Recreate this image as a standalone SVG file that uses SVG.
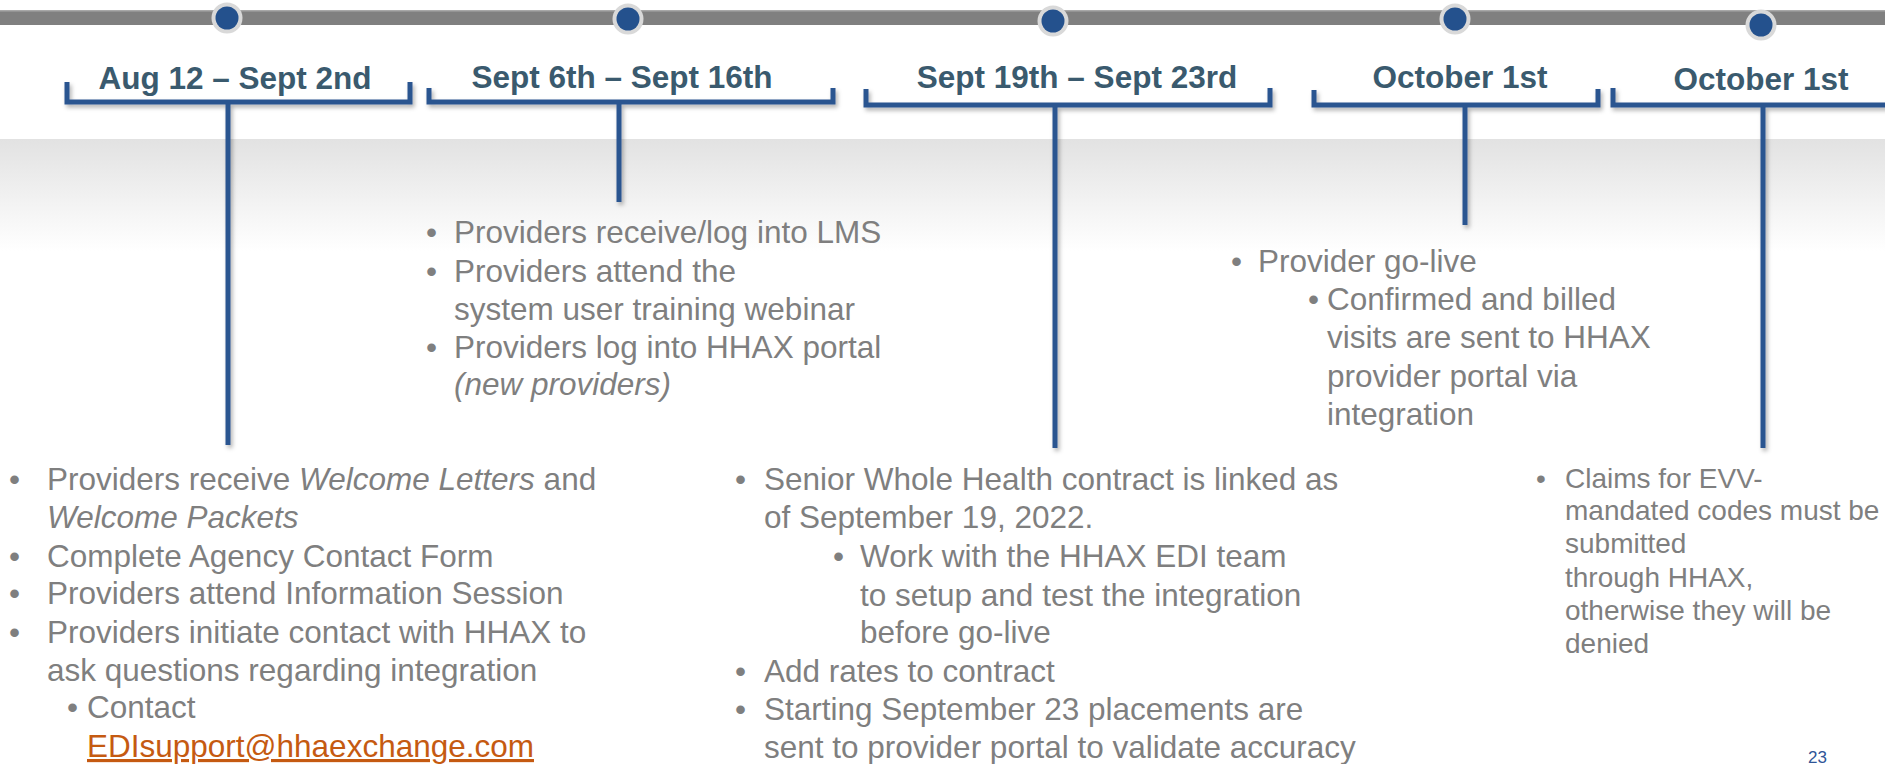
<svg xmlns="http://www.w3.org/2000/svg" width="1885" height="764" viewBox="0 0 1885 764">
  <style>
    .hd { font-family: "Liberation Sans", Arial, sans-serif; font-weight: bold; font-size: 31.5px; fill: #3a5a6e; text-anchor: middle; }
    .tx { font-family: "Liberation Sans", Arial, sans-serif; font-size: 31.5px; fill: #7f7f7f; }
    .sm { font-family: "Liberation Sans", Arial, sans-serif; font-size: 28px; fill: #7f7f7f; }
    .it { font-style: italic; }
    .link { fill: #c55a11; text-decoration: underline; }
    .br { fill: none; stroke: #2a5490; stroke-width: 5; stroke-linecap: butt; stroke-linejoin: miter; }
    .ring { fill: #d9d9d9; }
    .dot { fill: #24518d; }
    .pg { font-family: "Liberation Sans", Arial, sans-serif; font-size: 17px; fill: #2f5597; }
  </style>
  <defs>
    <linearGradient id="fade" x1="0" y1="0" x2="0" y2="1">
      <stop offset="0" stop-color="#e2e2e2"/>
      <stop offset="1" stop-color="#ffffff"/>
    </linearGradient>
    <filter id="shadow" x="-20%" y="-20%" width="140%" height="140%">
      <feDropShadow dx="2" dy="3" stdDeviation="2" flood-color="#000000" flood-opacity="0.3"/>
    </filter>
  </defs>

  <rect width="1885" height="764" fill="#ffffff"/>
  <!-- soft grey band behind the brackets -->
  <rect x="0" y="139" width="1885" height="112" fill="url(#fade)"/>

  <!-- timeline bar -->
  <g id="timeline">
    <rect x="0" y="10" width="1885" height="15" fill="#808080"/>
    <rect x="0" y="10" width="1885" height="1.5" fill="#a8a8a8"/>
  </g>

  <!-- brackets and drop lines -->
  <g id="connectors" filter="url(#shadow)">
    <path class="br" d="M67,82 V102 H410 V82"/>
    <path class="br" d="M228,102 V445"/>
    <path class="br" d="M429,88 V102 H833 V88"/>
    <path class="br" d="M619,102 V202"/>
    <path class="br" d="M866,89 V105 H1270 V88"/>
    <path class="br" d="M1055,105 V448"/>
    <path class="br" d="M1314,90 V105 H1598 V89"/>
    <path class="br" d="M1465,105 V225"/>
    <path class="br" d="M1613,88 V105 H1895"/>
    <path class="br" d="M1763,105 V448"/>
  </g>

  <g id="m1">
    <circle class="ring" cx="227" cy="18" r="15.5"/>
    <circle class="dot" cx="227" cy="18" r="11.5"/>
    <text class="hd" x="235" y="89">Aug 12 – Sept 2nd</text>
  </g>
  <g id="m2">
    <circle class="ring" cx="628" cy="19" r="15.5"/>
    <circle class="dot" cx="628" cy="19" r="11.5"/>
    <text class="hd" x="622" y="88">Sept 6th – Sept 16th</text>
  </g>
  <g id="m3">
    <circle class="ring" cx="1053" cy="21" r="15.5"/>
    <circle class="dot" cx="1053" cy="21" r="11.5"/>
    <text class="hd" x="1077" y="88">Sept 19th – Sept 23rd</text>
  </g>
  <g id="m4">
    <circle class="ring" cx="1455" cy="19" r="15.5"/>
    <circle class="dot" cx="1455" cy="19" r="11.5"/>
    <text class="hd" x="1460" y="88">October 1st</text>
  </g>
  <g id="m5">
    <circle class="ring" cx="1761" cy="25" r="15.5"/>
    <circle class="dot" cx="1761" cy="25" r="11.5"/>
    <text class="hd" x="1761" y="90">October 1st</text>
  </g>

  <!-- onboarding notes -->
  <g id="notes1">
    <text class="tx" x="9" y="490">•</text>
    <text class="tx" x="47" y="490">Providers receive <tspan class="it">Welcome Letters</tspan> and</text>
    <text class="tx it" x="47" y="528">Welcome Packets</text>
    <text class="tx" x="9" y="567">•</text>
    <text class="tx" x="47" y="567">Complete Agency Contact Form</text>
    <text class="tx" x="9" y="604">•</text>
    <text class="tx" x="47" y="604">Providers attend Information Session</text>
    <text class="tx" x="9" y="643">•</text>
    <text class="tx" x="47" y="643">Providers initiate contact with HHAX to</text>
    <text class="tx" x="47" y="681">ask questions regarding integration</text>
    <text class="tx" x="67" y="718">•</text>
    <text class="tx" x="87" y="718">Contact</text>
    <text class="tx link" x="87" y="757">EDIsupport@hhaexchange.com</text>
  </g>

  <g id="notes2">
    <text class="tx" x="426" y="243">•</text>
    <text class="tx" x="454" y="243">Providers receive/log into LMS</text>
    <text class="tx" x="426" y="282">•</text>
    <text class="tx" x="454" y="282">Providers attend the</text>
    <text class="tx" x="454" y="320">system user training webinar</text>
    <text class="tx" x="426" y="358">•</text>
    <text class="tx" x="454" y="358">Providers log into HHAX portal</text>
    <text class="tx it" x="454" y="395">(new providers)</text>
  </g>

  <g id="notes3">
    <text class="tx" x="735" y="490">•</text>
    <text class="tx" x="764" y="490">Senior Whole Health contract is linked as</text>
    <text class="tx" x="764" y="528">of September 19, 2022.</text>
    <text class="tx" x="833" y="567">•</text>
    <text class="tx" x="860" y="567">Work with the HHAX EDI team</text>
    <text class="tx" x="860" y="606">to setup and test the integration</text>
    <text class="tx" x="860" y="643">before go-live</text>
    <text class="tx" x="735" y="682">•</text>
    <text class="tx" x="764" y="682">Add rates to contract</text>
    <text class="tx" x="735" y="720">•</text>
    <text class="tx" x="764" y="720">Starting September 23 placements are</text>
    <text class="tx" x="764" y="758">sent to provider portal to validate accuracy</text>
  </g>

  <g id="notes4">
    <text class="tx" x="1231" y="272">•</text>
    <text class="tx" x="1258" y="272">Provider go-live</text>
    <text class="tx" x="1308" y="310">•</text>
    <text class="tx" x="1327" y="310">Confirmed and billed</text>
    <text class="tx" x="1327" y="348">visits are sent to HHAX</text>
    <text class="tx" x="1327" y="387">provider portal via</text>
    <text class="tx" x="1327" y="425">integration</text>
  </g>

  <g id="notes5">
    <text class="sm" x="1536" y="488">•</text>
    <text class="sm" x="1565" y="488">Claims for EVV-</text>
    <text class="sm" x="1565" y="520">mandated codes must be</text>
    <text class="sm" x="1565" y="553">submitted</text>
    <text class="sm" x="1565" y="587">through HHAX,</text>
    <text class="sm" x="1565" y="620">otherwise they will be</text>
    <text class="sm" x="1565" y="653">denied</text>
  </g>

  <text class="pg" x="1808" y="763">23</text>
</svg>
